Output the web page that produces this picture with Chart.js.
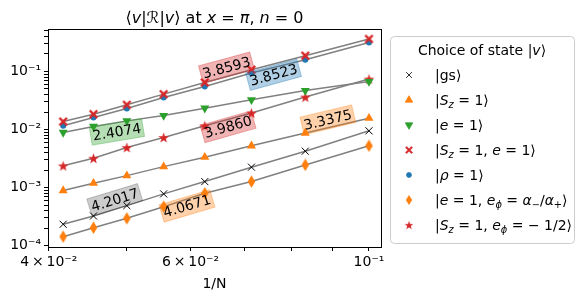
<!DOCTYPE html>
<html>
<head>
<meta charset="utf-8">
<script src="https://cdn.jsdelivr.net/npm/chart.js@4.4.1/dist/chart.umd.min.js"></script>
<style>html,body{margin:0;padding:0;background:#fff}</style>
</head>
<body>
<canvas id="chart" width="580" height="297"></canvas>
<script>
// 1/N for N = 24, 22, 20, 18, 16, 14, 12, 10
const invN = [0.04167, 0.04545, 0.05, 0.05556, 0.0625, 0.07143, 0.08333, 0.1];

const gsVals    = [2.34e-4, 3.25e-4, 4.9e-4, 7.8e-4, 1.27e-3, 2.25e-3, 4.24e-3, 9.5e-3];
const sz1Vals   = [8.9e-4, 1.19e-3, 1.61e-3, 2.3e-3, 3.34e-3, 5.25e-3, 8.7e-3, 1.57e-2];
const e1Vals    = [8.9e-3, 1.13e-2, 1.41e-2, 1.74e-2, 2.33e-2, 3.25e-2, 4.7e-2, 6.7e-2];
const sz1e1Vals = [1.37e-2, 1.84e-2, 2.67e-2, 4.07e-2, 6.46e-2, 0.107, 0.187, 0.362];
const rho1Vals  = [1.16e-2, 1.61e-2, 2.3e-2, 3.56e-2, 5.5e-2, 9.4e-2, 0.159, 0.316];
const e1PhiVals = [1.43e-4, 2.04e-4, 2.96e-4, 4.7e-4, 8.0e-4, 1.27e-3, 2.46e-3, 5.25e-3];
const sz1PhiVals= [2.37e-3, 3.2e-3, 4.9e-3, 7.3e-3, 1.16e-2, 1.92e-2, 3.62e-2, 7.4e-2];

// fitted exponents shown in the boxes (same order as the series)
const slopes = ['4.2017', '3.3375', '2.4074', '3.8593', '3.8523', '4.0671', '3.9860'];
// where each box sits, in data coordinates
const slopeAt = [[0.0483, 6.14e-4], [0.0889, 0.0147], [0.0486, 0.00912], [0.0665, 0.116],
                 [0.0761, 0.0877], [0.0594, 4.83e-4], [0.0668, 0.01114]];

const xTickVals = [0.04, 0.05, 0.06, 0.07, 0.08, 0.09, 0.1];
const xTickText = {0.04: '4\u2009×\u200910⁻²', 0.06: '6\u2009×\u200910⁻²', 0.1: '10⁻¹'};
const yTickText = {1e-4: '10⁻⁴', 1e-3: '10⁻³', 1e-2: '10⁻²', 1e-1: '10⁻¹'};

const FONT = "'DejaVu Sans', sans-serif";
const blue = '#1f77b4', orange = '#ff7f0e', green = '#2ca02c', red = '#d62728';

// marker images for shapes Chart.js does not have filled
function makeMarker(kind, color) {
    const c = document.createElement('canvas');
    c.width = 13; c.height = 13;
    const g = c.getContext('2d');
    const m = 6.5;
    g.fillStyle = color;
    g.beginPath();
    if (kind === 'X') {
        const a = 4.6, w = 1.7;
        const pts = [[0, w], [a - w, a], [a, a - w], [w, 0], [a, -a + w], [a - w, -a], [0, -w],
                     [-a + w, -a], [-a, -a + w], [-w, 0], [-a, a - w], [-a + w, a]];
        pts.forEach((p, i) => i ? g.lineTo(m + p[0], m + p[1]) : g.moveTo(m + p[0], m + p[1]));
    } else if (kind === 'd') {
        g.moveTo(m, 0.3); g.lineTo(m + 3.8, m); g.lineTo(m, 12.7); g.lineTo(m - 3.8, m);
    } else if (kind === 'star') {
        const R = 5.6, r = 2.3;
        for (let i = 0; i < 10; i++) {
            const ang = -Math.PI / 2 + i * Math.PI / 5;
            const rr = i % 2 ? r : R;
            const px = m + rr * Math.cos(ang), py = m + 0.5 + rr * Math.sin(ang);
            i ? g.lineTo(px, py) : g.moveTo(px, py);
        }
    }
    g.closePath();
    g.fill();
    return c;
}

const series = [
    {vals: gsVals, color: '#000', style: 'crossRot', radius: 5, rot: 0, bw: 1,
     label: [['|gs⟩', 'n']], box: 'rgba(0,0,0,0.2)'},
    {vals: sz1Vals, color: orange, style: 'triangle', radius: 5.2, rot: 0, bw: 0,
     label: [['|', 'n'], ['S', 'i'], ['z', 'si'], [' = 1⟩', 'n']], box: 'rgba(255,127,14,0.35)'},
    {vals: e1Vals, color: green, style: 'triangle', radius: 5.2, rot: 180, bw: 0,
     label: [['|', 'n'], ['e', 'i'], [' = 1⟩', 'n']], box: 'rgba(44,160,44,0.35)'},
    {vals: sz1e1Vals, color: red, style: makeMarker('X', red), radius: 5, rot: 0, bw: 0,
     label: [['|', 'n'], ['S', 'i'], ['z', 'si'], [' = 1, ', 'n'], ['e', 'i'], [' = 1⟩', 'n']], box: 'rgba(214,39,40,0.35)'},
    {vals: rho1Vals, color: blue, style: 'circle', radius: 3, rot: 0, bw: 0,
     label: [['|', 'n'], ['ρ', 'i'], [' = 1⟩', 'n']], box: 'rgba(31,119,180,0.35)'},
    {vals: e1PhiVals, color: orange, style: makeMarker('d', orange), radius: 6, rot: 0, bw: 0,
     label: [['|', 'n'], ['e', 'i'], [' = 1, ', 'n'], ['e', 'i'], ['ϕ', 'si'], [' = ', 'n'], ['α', 'i'], ['−', 'sn'],
             ['/', 'n'], ['α', 'i'], ['+', 'sn'], ['⟩', 'n']], box: 'rgba(255,127,14,0.35)'},
    {vals: sz1PhiVals, color: red, style: makeMarker('star', red), radius: 6, rot: 0, bw: 0,
     label: [['|', 'n'], ['S', 'i'], ['z', 'si'], [' = 1, ', 'n'], ['e', 'i'], ['ϕ', 'si'], [' = − 1/2⟩', 'n']],
     box: 'rgba(214,39,40,0.35)'}
];

// mixed italic / subscript text
function segFont(kind, size) {
    const sub = kind[0] === 's';
    const it = kind.endsWith('i');
    return (it ? 'italic ' : '') + (sub ? size * 0.7 : size) + 'px ' + FONT;
}
function richWidth(ctx, segs, size) {
    let w = 0;
    segs.forEach(s => { ctx.font = segFont(s[1], size); w += ctx.measureText(s[0]).width; });
    return w;
}
function drawRich(ctx, segs, x, y, size) {
    ctx.textBaseline = 'alphabetic';
    ctx.textAlign = 'left';
    segs.forEach(s => {
        ctx.font = segFont(s[1], size);
        const dy = s[1][0] === 's' ? size * 0.22 : 0;
        ctx.fillText(s[0], x, y + dy);
        x += ctx.measureText(s[0]).width;
    });
}

const extras = {
    id: 'extras',
    afterDatasetsDraw(chart) {
        const ctx = chart.ctx, xs = chart.scales.x, ys = chart.scales.y;
        // slope boxes
        series.forEach((s, i) => {
            const x0 = xs.getPixelForValue(invN[0]), y0 = ys.getPixelForValue(s.vals[0]);
            const x1 = xs.getPixelForValue(invN[invN.length - 1]), y1 = ys.getPixelForValue(s.vals[s.vals.length - 1]);
            const ang = Math.atan2(y1 - y0, x1 - x0);
            const px = xs.getPixelForValue(slopeAt[i][0]), py = ys.getPixelForValue(slopeAt[i][1]);
            ctx.save();
            ctx.translate(px, py);
            ctx.rotate(ang);
            ctx.font = '14px ' + FONT;
            const w = ctx.measureText(slopes[i]).width + 4, h = 18;
            ctx.fillStyle = s.box;
            ctx.fillRect(-w / 2, -h / 2, w, h);
            ctx.strokeStyle = s.box;
            ctx.lineWidth = 1;
            ctx.strokeRect(-w / 2, -h / 2, w, h);
            ctx.fillStyle = '#000';
            ctx.textAlign = 'center';
            ctx.textBaseline = 'middle';
            ctx.fillText(slopes[i], 0, 1);
            ctx.restore();
        });
    },
    afterDraw(chart) {
        const ctx = chart.ctx, a = chart.chartArea;
        ctx.save();
        // frame
        ctx.strokeStyle = '#000';
        ctx.lineWidth = 1;
        ctx.strokeRect(Math.round(a.left) + 0.5, Math.round(a.top) + 0.5,
                       Math.round(a.right - a.left), Math.round(a.bottom - a.top));
        // title
        ctx.fillStyle = '#000';
        const tsegs = [['⟨', 'n'], ['v', 'i'], ['|', 'n'], ['ℛ', 'n'], ['|', 'n'], ['v', 'i'], ['⟩ at ', 'n'],
                       ['x', 'i'], [' = ', 'n'], ['π', 'i'], [', ', 'n'], ['n', 'i'], [' = 0', 'n']];
        const tw = richWidth(ctx, tsegs, 16);
        drawRich(ctx, tsegs, (a.left + a.right) / 2 - tw / 2, 23, 16);

        // legend
        const L = 390, T = 36, R = 574, B = 243;
        ctx.beginPath();
        ctx.roundRect(L + 0.5, T + 0.5, R - L, B - T, 4);
        ctx.fillStyle = 'rgba(255,255,255,0.8)';
        ctx.fill();
        ctx.strokeStyle = '#cccccc';
        ctx.stroke();
        ctx.fillStyle = '#000';
        const lsegs = [['Choice of state |', 'n'], ['v', 'i'], ['⟩', 'n']];
        drawRich(ctx, lsegs, (L + R) / 2 - richWidth(ctx, lsegs, 14) / 2, 55, 14);
        series.forEach((s, i) => {
            const cy = 75 + i * 25;
            ctx.save();
            ctx.translate(409, cy);
            ctx.scale(0.82, 0.82);
            ctx.fillStyle = s.color;
            ctx.strokeStyle = s.color;
            Chart.helpers.drawPoint(ctx, {pointStyle: s.style, radius: s.radius, rotation: s.rot,
                borderWidth: s.bw || 1}, 0, 0);
            ctx.restore();
            ctx.fillStyle = '#000';
            drawRich(ctx, s.label, 435, cy + 5, 14);
        });
        ctx.restore();
    }
};

new Chart(document.getElementById('chart'), {
    type: 'line',
    data: {
        datasets: series.map(s => ({
            data: invN.map((x, i) => ({x: x, y: s.vals[i]})),
            borderColor: 'gray',
            borderWidth: 1.5,
            pointStyle: s.style,
            pointRadius: s.radius,
            pointRotation: s.rot,
            pointBackgroundColor: s.color,
            pointBorderColor: s.color,
            pointBorderWidth: s.bw,
            tension: 0
        }))
    },
    options: {
        responsive: false,
        animation: false,
        devicePixelRatio: 1,
        layout: {padding: {left: 0, right: 199, top: 29, bottom: 0}},
        plugins: {legend: {display: false}, title: {display: false}, tooltip: {enabled: false}},
        scales: {
            x: {
                type: 'logarithmic',
                min: 0.0399, max: 0.1035,
                afterBuildTicks: sc => { sc.ticks = xTickVals.map(v => ({value: v})); },
                afterFit: sc => { sc.height = 50; },
                border: {display: false},
                grid: {drawOnChartArea: false, tickLength: 4, color: '#000'},
                ticks: {
                    autoSkip: false, maxRotation: 0, padding: 3, color: '#000',
                    font: {family: FONT, size: 14},
                    callback: v => xTickText[v] || ''
                },
                title: {display: true, text: '1/N', color: '#000', font: {family: FONT, size: 14},
                        padding: {top: 0, bottom: 4}}
            },
            y: {
                type: 'logarithmic',
                min: 9.5e-5, max: 0.538,
                afterBuildTicks: sc => {
                    const t = [];
                    for (let k = -4; k <= -1; k++)
                        for (let m = 1; m <= 9; m++) {
                            const v = +(m * Math.pow(10, k)).toPrecision(3);
                            if (v >= sc.min && v <= sc.max) t.push({value: v});
                        }
                    sc.ticks = t;
                },
                afterFit: sc => { sc.width = 48; },
                border: {display: false},
                grid: {drawOnChartArea: false, tickLength: 4, color: '#000'},
                ticks: {
                    autoSkip: false, padding: 3, color: '#000',
                    font: {family: FONT, size: 14},
                    callback: v => yTickText[v] || ''
                }
            }
        }
    },
    plugins: [extras]
});
</script>
</body>
</html>
